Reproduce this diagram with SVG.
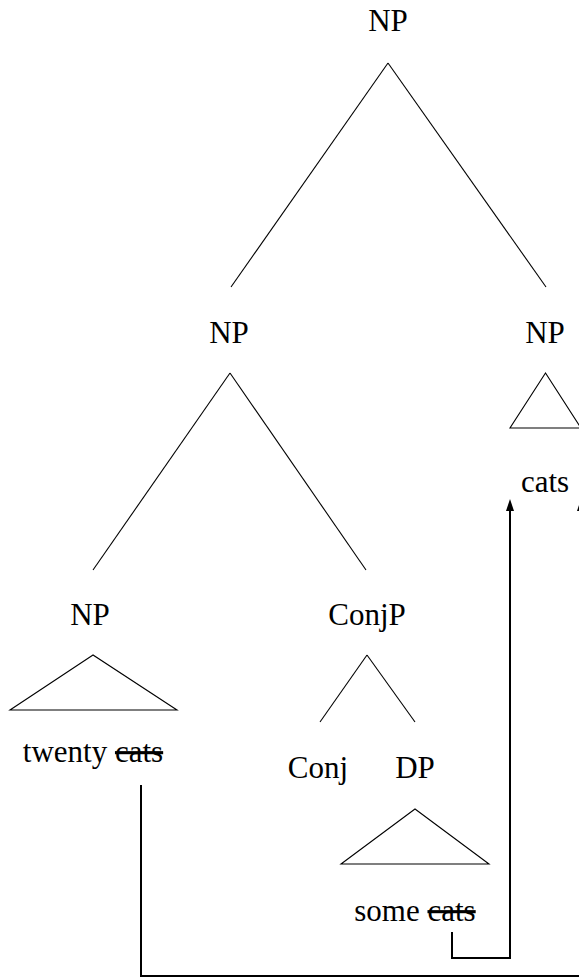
<svg xmlns="http://www.w3.org/2000/svg" width="579" height="978" viewBox="0 0 579 978">
  <defs>
    <marker id="head" viewBox="0 0 12 8" refX="1" refY="4" markerWidth="12" markerHeight="8" markerUnits="userSpaceOnUse" orient="auto">
      <path d="M0,0 L12,4 L0,8 z" fill="#000"/>
    </marker>
  </defs>
  <rect width="579" height="978" fill="#fff"/>

  <!-- tree branches -->
  <g id="branches" stroke="#000" stroke-width="1.1" fill="none">
    <line x1="388" y1="63" x2="231" y2="287"/>
    <line x1="388" y1="63" x2="546" y2="287"/>
    <line x1="230" y1="373" x2="93" y2="570"/>
    <line x1="230" y1="373" x2="366" y2="570"/>
    <line x1="367" y1="655" x2="320" y2="722"/>
    <line x1="367" y1="655" x2="415" y2="722"/>
  </g>

  <!-- node labels and their triangles -->
  <g font-size="31" fill="#000" text-anchor="middle">
    <g id="np-root">
      <text x="388" y="31" font-family="Liberation Serif">NP</text>
    </g>
    <g id="np-left">
      <text x="229" y="343" font-family="Liberation Serif">NP</text>
    </g>
    <g id="np-right">
      <text x="545" y="343" font-family="Liberation Serif">NP</text>
      <polygon points="545.5,373 510,428 581,428" fill="none" stroke="#000" stroke-width="1.1"/>
      <text x="545" y="492" font-family="Liberation Serif">cats</text>
    </g>
    <g id="np-twenty">
      <text x="90" y="625" font-family="Liberation Serif">NP</text>
      <polygon points="93,655 10,710 177,710" fill="none" stroke="#000" stroke-width="1.1"/>
      <text x="93" y="762" font-family="Liberation Serif">twenty <tspan text-decoration="line-through">cats</tspan></text>
    </g>
    <g id="conjp">
      <text x="367" y="625" font-family="Liberation Serif">ConjP</text>
    </g>
    <g id="conj">
      <text x="318" y="778" font-family="Liberation Serif">Conj</text>
    </g>
    <g id="dp">
      <text x="415" y="778" font-family="Liberation Serif">DP</text>
      <polygon points="415,809 341,864 489,864" fill="none" stroke="#000" stroke-width="1.1"/>
      <text x="415" y="921" font-family="Liberation Serif">some <tspan text-decoration="line-through">cats</tspan></text>
    </g>
  </g>

  <!-- movement arrows -->
  <g id="connectors" stroke="#000" stroke-width="2" fill="none" marker-end="url(#head)">
    <path d="M452,932 V958 H510 V510"/>
    <path d="M141,785 V976 H581 V510"/>
  </g>
</svg>
